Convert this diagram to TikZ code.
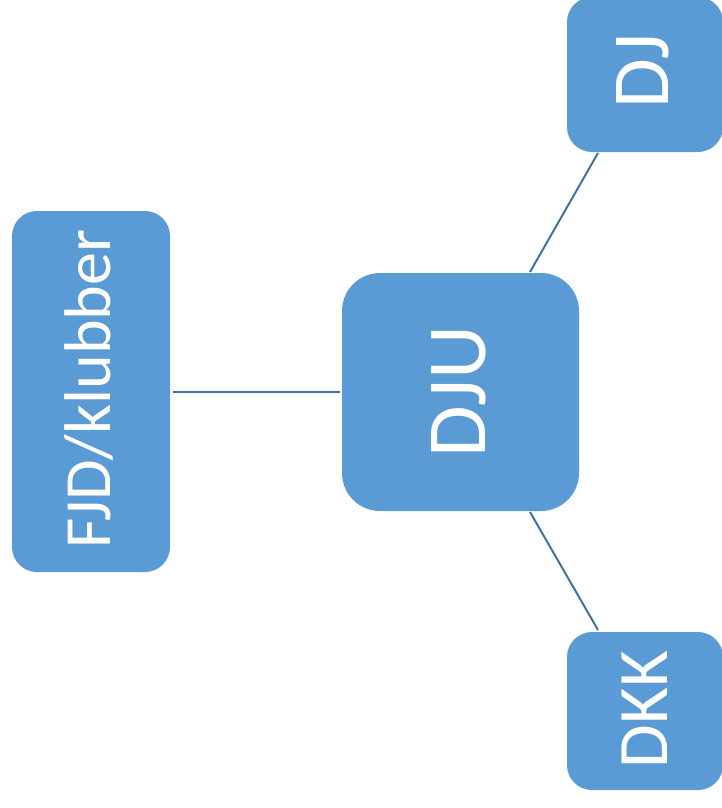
\documentclass[tikz,border=0pt]{standalone}
\usepackage{fontspec}
\setmainfont{Carlito}
\definecolor{boxfill}{HTML}{5B9BD5}
\definecolor{linkcol}{HTML}{41719C}
\begin{document}
\begin{tikzpicture}[x=1pt,y=-1pt,
  orgbox/.style={draw=none,fill=boxfill,rectangle,inner sep=0pt,outer sep=0pt,anchor=north west},
  boxtext/.style={text=white,rotate=90,anchor=base,inner sep=0pt},
  link/.style={draw=linkcol,line width=2pt}]
\useasboundingbox (0,0) rectangle (722,808);
\node[orgbox,minimum width=158pt,minimum height=361pt,rounded corners=25pt] (fjd) at (12,211) {};
\node[orgbox,minimum width=237pt,minimum height=238pt,rounded corners=38pt] (dju) at (342,273) {};
\node[orgbox,minimum width=156pt,minimum height=155pt,rounded corners=25pt] (dj) at (567,-3) {};
\node[orgbox,minimum width=156pt,minimum height=158pt,rounded corners=25pt] (dkk) at (567,632) {};
\node[boxtext,font=\fontsize{66}{66}\selectfont] (tfjd) at (110,389) {FJD/klubber};
\node[boxtext,font=\fontsize{84}{84}\selectfont] (tdju) at (485,391.5) {DJU};
\node[boxtext,font=\fontsize{81}{81}\selectfont] (tdj) at (668,71) {DJ};
\node[boxtext,font=\fontsize{71}{71}\selectfont] (tdkk) at (667,709.5) {DKK};
\coordinate (fjdR) at (173,392);
\coordinate (djuL) at (340,392);
\coordinate (djuT) at (530,272);
\coordinate (djB) at (598,153);
\coordinate (djuB) at (530,512);
\coordinate (dkkT) at (598,630);
\draw[link] (fjdR) -- (djuL);
\draw[link] (djuT) -- (djB);
\draw[link] (djuB) -- (dkkT);
\end{tikzpicture}
\end{document}
